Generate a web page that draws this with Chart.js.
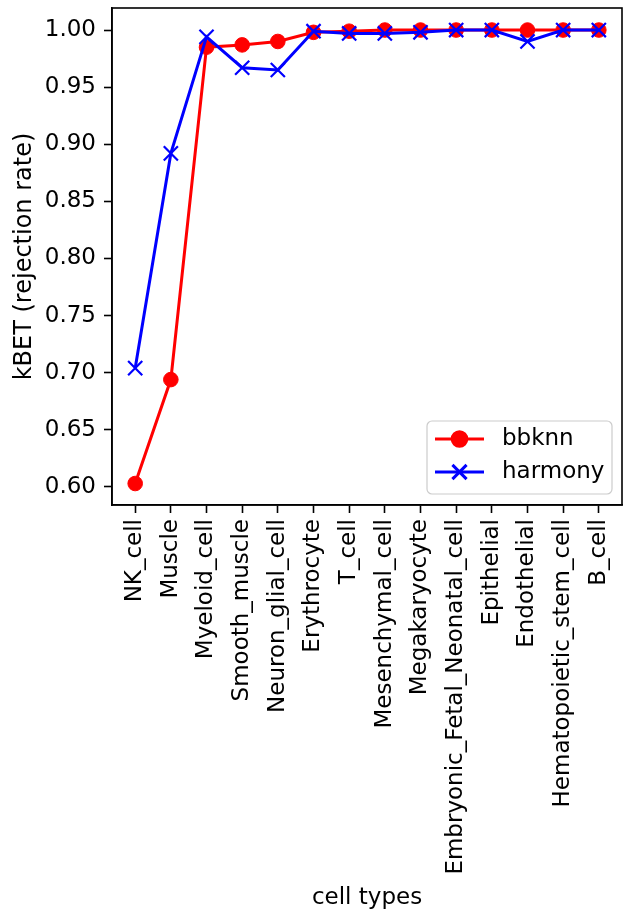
<!DOCTYPE html>
<html>
<head>
<meta charset="utf-8">
<script src="https://cdn.jsdelivr.net/npm/chart.js@4/dist/chart.umd.min.js"></script>
<style>
  html, body { margin: 0; padding: 0; background: #fff; }
</style>
</head>
<body>
<canvas id="myChart" width="623" height="913"></canvas>
<script>
  const cellTypes = [
    'NK_cell',
    'Muscle',
    'Myeloid_cell',
    'Smooth_muscle',
    'Neuron_glial_cell',
    'Erythrocyte',
    'T_cell',
    'Mesenchymal_cell',
    'Megakaryocyte',
    'Embryonic_Fetal_Neonatal_cell',
    'Epithelial',
    'Endothelial',
    'Hematopoietic_stem_cell',
    'B_cell',
  ];

  const bbknn = [0.603, 0.694, 0.985, 0.987, 0.990, 0.998, 0.999, 1.000, 1.000, 1.000, 1.000, 1.000, 1.000, 1.000];
  const harmony = [0.704, 0.892, 0.994, 0.967, 0.965, 0.999, 0.997, 0.997, 0.998, 1.000, 1.000, 0.990, 1.000, 1.000];

  const yTicks = [0.60, 0.65, 0.70, 0.75, 0.80, 0.85, 0.90, 0.95, 1.00];

  const FONT = 'DejaVu Sans';

  // top/right frame + legend inside the plot (lower right)
  const framePlugin = {
    id: 'frame',
    afterDatasetsDraw(chart) {
      const a = chart.chartArea;
      const ctx = chart.ctx;
      ctx.save();
      ctx.strokeStyle = '#000';
      ctx.lineWidth = 1.6;
      ctx.strokeRect(a.left, a.top, a.right - a.left, a.bottom - a.top);
      ctx.restore();
    },
    afterDraw(chart) {
      const a = chart.chartArea;
      const ctx = chart.ctx;
      const w = 185, h = 73;
      const x0 = a.right - 10 - w;
      const y0 = a.bottom - 11 - h;
      ctx.save();
      ctx.beginPath();
      ctx.roundRect(x0, y0, w, h, 5);
      ctx.fillStyle = 'rgba(255,255,255,0.8)';
      ctx.fill();
      ctx.strokeStyle = '#cccccc';
      ctx.lineWidth = 1.2;
      ctx.stroke();

      chart.data.datasets.forEach((ds, i) => {
        const yy = y0 + 18 + i * 33;
        ctx.strokeStyle = ds.borderColor;
        ctx.lineWidth = ds.borderWidth;
        ctx.beginPath();
        ctx.moveTo(x0 + 8, yy);
        ctx.lineTo(x0 + 57, yy);
        ctx.stroke();
        ctx.fillStyle = ds.pointBackgroundColor || ds.borderColor;
        ctx.strokeStyle = ds.pointBorderColor;
        Chart.helpers.drawPoint(ctx, {
          pointStyle: ds.pointStyle,
          radius: ds.pointRadius,
          borderWidth: ds.pointBorderWidth,
          rotation: 0
        }, x0 + 32.5, yy);
        ctx.fillStyle = '#000';
        ctx.font = '23px "' + FONT + '"';
        ctx.textBaseline = 'middle';
        ctx.fillText(ds.label, x0 + 75, yy);
      });
      ctx.restore();
    }
  };

  const data = {
    datasets: [{
      label: 'bbknn',
      data: bbknn.map((v, i) => ({ x: i, y: v })),
      borderColor: 'rgb(255, 0, 0)',
      backgroundColor: 'rgb(255, 0, 0)',
      borderWidth: 3,
      pointStyle: 'circle',
      pointRadius: 7.3,
      pointBackgroundColor: 'rgb(255, 0, 0)',
      pointBorderColor: 'rgb(255, 0, 0)',
      pointBorderWidth: 1,
      order: 2,
    },
    {
      label: 'harmony',
      data: harmony.map((v, i) => ({ x: i, y: v })),
      borderColor: 'rgb(0, 0, 255)',
      backgroundColor: 'rgb(0, 0, 255)',
      borderWidth: 3,
      pointStyle: 'crossRot',
      pointRadius: 10,
      pointBorderColor: 'rgb(0, 0, 255)',
      pointBorderWidth: 2.2,
      order: 1,
    }]
  };

  const config = {
    type: 'line',
    data: data,
    plugins: [framePlugin],
    options: {
      responsive: false,
      animation: false,
      devicePixelRatio: 1,
      layout: {
        autoPadding: false,
        padding: { top: 8, right: 1, left: 0, bottom: 0 }
      },
      plugins: {
        legend: { display: false },
        tooltip: { enabled: false },
        title: { display: false }
      },
      scales: {
        x: {
          type: 'linear',
          min: -0.65,
          max: 13.65,
          afterBuildTicks: (scale) => {
            scale.ticks = cellTypes.map((c, i) => ({ value: i }));
          },
          afterFit: (scale) => {
            scale.height = 408;
            scale.paddingLeft = 0;
            scale.paddingRight = 0;
          },
          ticks: {
            autoSkip: false,
            minRotation: 90,
            maxRotation: 90,
            padding: 6,
            color: '#000',
            font: { family: FONT, size: 23 },
            callback: (v) => cellTypes[v]
          },
          grid: {
            display: true,
            drawOnChartArea: false,
            drawTicks: true,
            tickLength: 8,
            tickWidth: 1.6,
            tickColor: '#000'
          },
          border: { display: true, color: '#000', width: 1.6 },
          title: {
            display: true,
            text: 'cell types',
            color: '#000',
            font: { family: FONT, size: 23 },
            padding: { top: 0, bottom: 1 }
          }
        },
        y: {
          min: 0.5842,
          max: 1.0193,
          afterBuildTicks: (scale) => {
            scale.ticks = yTicks.map((v) => ({ value: v }));
          },
          afterFit: (scale) => {
            scale.width = 112;
            scale.paddingTop = 0;
            scale.paddingBottom = 0;
          },
          ticks: {
            padding: 8,
            color: '#000',
            font: { family: FONT, size: 23 },
            callback: (v) => v.toFixed(2)
          },
          grid: {
            display: true,
            drawOnChartArea: false,
            drawTicks: true,
            tickLength: 8,
            tickWidth: 1.6,
            tickColor: '#000'
          },
          border: { display: true, color: '#000', width: 1.6 },
          title: {
            display: true,
            text: 'kBET (rejection rate)',
            color: '#000',
            font: { family: FONT, size: 24 },
            padding: { top: 10, bottom: 0 }
          }
        }
      }
    }
  };

  const myChart = new Chart(
    document.getElementById('myChart'),
    config
  );
</script>
</body>
</html>
